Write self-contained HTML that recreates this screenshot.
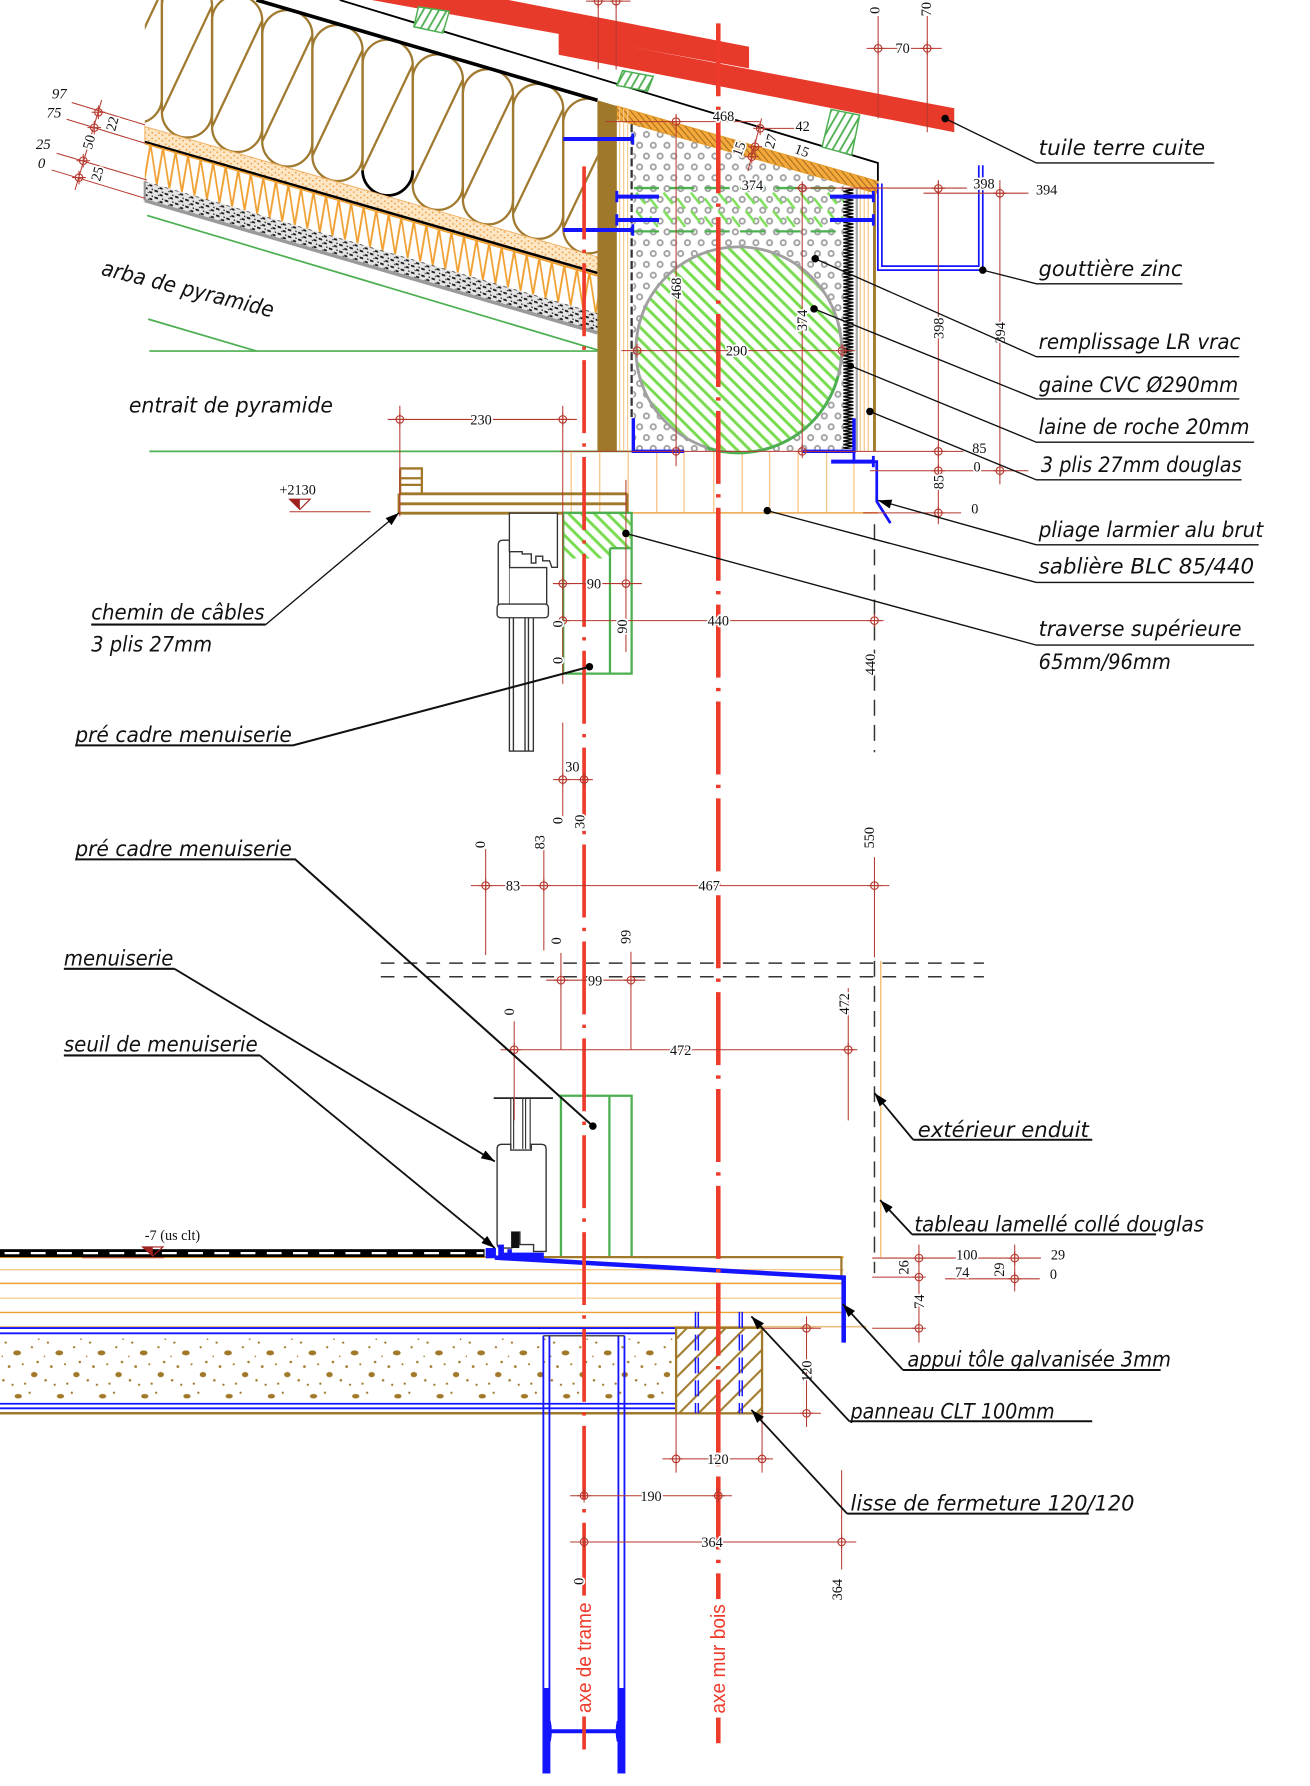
<!DOCTYPE html>
<html><head><meta charset="utf-8">
<style>
html,body{margin:0;padding:0;background:#fff;overflow:hidden}
svg{display:block}
.lb{font-family:"DejaVu Sans","Liberation Sans",sans-serif;font-style:italic;font-size:19px;fill:#111}
.dm{font-family:"Liberation Serif",serif;font-size:12.5px;fill:#111;paint-order:stroke;stroke:#fff;stroke-width:3px;stroke-linejoin:round}
.dn{font-family:"Liberation Serif",serif;font-size:12.5px;fill:#111}
.dt{font-family:"Liberation Serif",serif;font-style:italic;font-size:13px;fill:#111}
.ax{font-family:"Liberation Sans",sans-serif;font-size:18px;fill:#ee3a2a}
</style></head><body>
<svg xmlns="http://www.w3.org/2000/svg" width="1310" height="1786" viewBox="0 0 1149 1567" preserveAspectRatio="none">
<defs>
<g id="dc"><circle r="3.3" fill="none" stroke="#b5382e" stroke-width="1"/><path d="M-6,0H6M0,-6V6" stroke="#b5382e" stroke-width="0.9"/></g>
<pattern id="gh" width="8" height="8" patternUnits="userSpaceOnUse" patternTransform="rotate(-45)"><rect width="8" height="8" fill="#fff"/><line x1="2" y1="0" x2="2" y2="8" stroke="#78dc50" stroke-width="2.6"/></pattern>
<pattern id="gb" width="6" height="6" patternUnits="userSpaceOnUse" patternTransform="rotate(30)"><rect width="6" height="6" fill="#fff"/><line x1="2" y1="0" x2="2" y2="6" stroke="#4caf50" stroke-width="1.6"/></pattern>
<pattern id="bh" width="12" height="12" patternUnits="userSpaceOnUse" patternTransform="rotate(45)"><rect width="12" height="12" fill="#fff"/><line x1="2" y1="0" x2="2" y2="12" stroke="#a0782a" stroke-width="1.8"/></pattern>
<pattern id="oh" width="4" height="4" patternUnits="userSpaceOnUse" patternTransform="rotate(-40)"><rect width="4" height="4" fill="#f5a93a"/><line x1="1" y1="0" x2="1" y2="4" stroke="#8a5a18" stroke-width="0.7"/></pattern>
<pattern id="gd" width="12" height="19" patternUnits="userSpaceOnUse"><rect width="12" height="19" fill="#fff"/><circle cx="3" cy="4" r="2.3" fill="none" stroke="#a0a0a0" stroke-width="1.6"/><circle cx="9" cy="13.5" r="2.3" fill="none" stroke="#a0a0a0" stroke-width="1.6"/></pattern>
<pattern id="sp" width="6" height="5" patternUnits="userSpaceOnUse"><rect width="6" height="5" fill="#fde6c4"/><circle cx="1.5" cy="1.5" r="0.8" fill="#f0a040"/><circle cx="4.5" cy="3.5" r="0.7" fill="#e89030"/></pattern>
<pattern id="gv" width="9" height="6" patternUnits="userSpaceOnUse" patternTransform="skewY(16.3)"><rect width="9" height="6" fill="#e4e4e4"/><rect x="0.5" y="0.8" width="3" height="1.6" fill="#111"/><rect x="5" y="3.2" width="2.6" height="1.6" fill="#111"/><rect x="3.5" y="4.3" width="1.2" height="1" fill="#333"/><rect x="7" y="0.5" width="1.2" height="1.2" fill="#222"/></pattern>
<pattern id="zz" x="0" y="87.9" width="11" height="34" patternUnits="userSpaceOnUse" patternTransform="skewY(16.3)"><path d="M0,0 L5.5,34 L11,0" fill="none" stroke="#f0a030" stroke-width="1.6"/></pattern>
<pattern id="lr" x="739.5" y="0" width="10" height="3" patternUnits="userSpaceOnUse"><path d="M0,0 L9,1.5 L0,3" fill="none" stroke="#000" stroke-width="1.2"/></pattern>
<pattern id="gdash" x="556" y="168" width="24" height="16" patternUnits="userSpaceOnUse"><path d="M2,1 L10,11 M14,6 L21,15" stroke="#7ee05a" stroke-width="2.2"/></pattern>
<pattern id="cc" x="0" y="1170" width="37" height="62" patternUnits="userSpaceOnUse"><rect width="37" height="62" fill="#fff"/><ellipse cx="15" cy="17" rx="3.4" ry="2.2" fill="#a07828"/><ellipse cx="30" cy="36" rx="2.8" ry="2.3" fill="#a07828"/><ellipse cx="16" cy="55" rx="3.2" ry="2" fill="#a07828"/><circle cx="5" cy="8" r="1" fill="#a07828"/><circle cx="28" cy="12" r="1" fill="#a07828"/><circle cx="33" cy="25" r="1.1" fill="#a07828"/><circle cx="8" cy="29" r="1.2" fill="#a07828"/><circle cx="22" cy="44" r="1" fill="#a07828"/><circle cx="3" cy="41" r="1.1" fill="#a07828"/><circle cx="26" cy="52" r="1" fill="#a07828"/><circle cx="11" cy="45" r="1" fill="#a07828"/><circle cx="20" cy="27" r="0.9" fill="#a07828"/><circle cx="34" cy="5" r="0.7" fill="#a07828"/><circle cx="2" cy="20" r="0.7" fill="#a07828"/></pattern>
<marker id="ar" viewBox="0 0 12 8" refX="12" refY="4" markerWidth="12" markerHeight="8" markerUnits="userSpaceOnUse" orient="auto"><path d="M0,0 L12,4 L0,8 z" fill="#000"/></marker>
<clipPath id="insc"><rect x="127" y="0" width="397" height="260"/></clipPath>
</defs>
<rect width="1149" height="1567" fill="#fff"/>

<!-- ===== ROOF LEFT ===== -->
<g clip-path="url(#insc)" fill="none" stroke="#a07a30" stroke-width="2">
<path d="M98,-7.9 A22,22 0 0 1 142,-7.9 V85.9 A22,22 0 0 1 98,85.9 Z M98,85.9 L142,-7.9"/>
<path d="M142,5.1 A22,22 0 0 1 186,5.1 V98.7 A22,22 0 0 1 142,98.7 Z M142,98.7 L186,5.1"/>
<path d="M186,18 A22,22 0 0 1 230,18 V111.4 A22,22 0 0 1 186,111.4 Z M186,111.4 L230,18"/>
<path d="M230,30.9 A22,22 0 0 1 274,30.9 V124.1 A22,22 0 0 1 230,124.1 Z M230,124.1 L274,30.9"/>
<path d="M274,43.9 A22,22 0 0 1 318,43.9 V136.8 A22,22 0 0 1 274,136.8 Z M274,136.8 L318,43.9"/>
<path d="M318,56.8 A22,22 0 0 1 362,56.8 V149.5 A22,22 0 0 1 318,149.5 Z M318,149.5 L362,56.8"/>
<path d="M362,69.7 A22,22 0 0 1 406,69.7 V162.2 A22,22 0 0 1 362,162.2 Z M362,162.2 L406,69.7"/>
<path d="M406,82.7 A22,22 0 0 1 450,82.7 V174.9 A22,22 0 0 1 406,174.9 Z M406,174.9 L450,82.7"/>
<path d="M450,95.6 A22,22 0 0 1 494,95.6 V187.6 A22,22 0 0 1 450,187.6 Z M450,187.6 L494,95.6"/>
<path d="M494,108.6 A22,22 0 0 1 538,108.6 V200.3 A22,22 0 0 1 494,200.3 Z M494,200.3 L538,108.6"/>
<path d="M318,149.5 A22,22 0 0 0 362,149.5" stroke="#000" stroke-width="2.4"/>
</g>
<line x1="225" y1="0" x2="524" y2="88" stroke="#000" stroke-width="3.2"/>
<path d="M298,0 L770,143 V159" fill="none" stroke="#000" stroke-width="1.6"/>
<polygon points="127,111 540,230 540,246 127,124" fill="url(#sp)" stroke="#f0b060" stroke-width="0.8"/>
<line x1="127" y1="124.5" x2="524" y2="239.5" stroke="#000" stroke-width="2.2"/>
<polygon points="127,125 524,241 524,275 127,159" fill="url(#zz)"/>
<line x1="127" y1="126" x2="524" y2="242" stroke="#f0a030" stroke-width="1.4"/>
<polygon points="127,159 524,275 524,291 127,175" fill="url(#gv)"/>
<line x1="127" y1="176" x2="524" y2="292" stroke="#9a9a9a" stroke-width="3"/>
<line x1="127" y1="159" x2="127" y2="176" stroke="#9a9a9a" stroke-width="2"/>
<g stroke="#4caf50" stroke-width="1.5" fill="none">
<line x1="129" y1="189" x2="524" y2="307"/>
<line x1="130" y1="280" x2="225" y2="308"/>
<line x1="131" y1="308" x2="524" y2="308"/>
<line x1="131" y1="396" x2="560" y2="396"/>
</g>

<!-- ===== TILES ===== -->
<polygon points="326,0 446,0 657,41 657,60" fill="#e83a2b"/>
<polygon points="490,29 837,95 837,116 490,48" fill="#e83a2b"/>
<polygon points="367,6 394,10 388.5,29 363,23.5" fill="url(#gb)" stroke="#4caf50" stroke-width="1.3"/>
<polygon points="546,62 573,67 568,80 541,75" fill="url(#gb)" stroke="#4caf50" stroke-width="1.3"/>
<polygon points="729,96 754,101 747,136 721,129" fill="url(#gb)" stroke="#4caf50" stroke-width="1.3"/>

<!-- ===== WALL TOP ===== -->
<g stroke="#f7c88e" stroke-width="1.2">
<path d="M501,396V450 M526,396V450 M551,396V450 M576,396V450 M600,396V450 M626,396V450 M651,396V450 M675,396V450 M700,396V450 M725,396V450 M749,396V450"/>
</g>
<line x1="494" y1="450" x2="770" y2="450" stroke="#f0b060" stroke-width="1.5"/>
<polygon points="555.5,109 740,162 740,396 555.5,396" fill="url(#gd)"/>
<rect x="556" y="168" width="184" height="32" fill="url(#gdash)"/>
<g stroke="#4caf50" stroke-width="2" stroke-dasharray="22 9"><line x1="556" y1="165" x2="740" y2="165"/><line x1="556" y1="203" x2="740" y2="203"/></g>
<circle cx="648" cy="306.8" r="90.2" fill="url(#gh)" stroke="#a0a0a0" stroke-width="2.5"/>
<path d="M620,393 A90.2,90.2 0 0 0 735,330" fill="none" stroke="#4caf50" stroke-width="2.5"/>
<rect x="739.5" y="165" width="9.5" height="229" fill="url(#lr)"/>
<line x1="751.5" y1="163" x2="751.5" y2="396" stroke="#aaa" stroke-width="2"/>
<g stroke="#f5c27a" stroke-width="1"><path d="M754.5,160V396 M758,161V396 M761.5,162V396"/></g>
<line x1="767" y1="164" x2="767" y2="396" stroke="#a0782a" stroke-width="2.5"/>
<polygon points="541,93 770,159 770,170 541,105" fill="url(#oh)" stroke="#e39a2a" stroke-width="0.8"/>
<polygon points="524,88 541,93 541,396 524,396" fill="#a0782a"/>
<g stroke="#f7c98b" stroke-width="1"><path d="M543.5,94V396 M547,95V396 M550.5,96V396"/></g>
<line x1="554" y1="109" x2="554" y2="366" stroke="#333" stroke-width="2" stroke-dasharray="7 3"/>
<g stroke="#1414ff" fill="none">
<path d="M555.5,367V396H600 M749,367V396H703" stroke-width="3"/>
<path d="M770,161V237H862V145 M773.5,161V233.5H858.5V145" stroke-width="1.5"/>
<path d="M749,396V405H769V440L781,459" stroke-width="2.4"/>
<path d="M494,122H555 M541,172.5H578 M541,193H578 M728,172.5H766 M728,193H766 M494,201.8H555 M729,405H766" stroke-width="3.5"/>
<path d="M555,117V127 M541,167.5V177.5 M541,188V198 M766,167.5V177.5 M766,188V198 M555,196.8V206.8 M766,400V410" stroke-width="2.5"/>
</g>

<!-- chemin de cables -->
<g stroke="#a0782a" stroke-width="2.5" fill="none">
<path d="M350,433.3H550 M350,442H550 M350,450.3H550 M350,433V450.3 M550,433V450.3"/>
<path d="M351,411H370V433 M351,411V433 M351,419.6H370 M351,425.4H370" stroke-width="2"/>
</g>
<polygon points="494,450 554,450 554,481 535,481 535,490 494,490" fill="url(#gh)"/>
<path d="M494,450H554V591H494Z M535,481V591 M535,481H554" fill="none" stroke="#4caf50" stroke-width="2"/>
<g fill="#fff" stroke="#333" stroke-width="1.2">
<path d="M437,478 Q437,474 441,474 H447 V541 H437 Z"/>
<path d="M446.8,450.3 H488.9 V497.7 H484 L482,492 H476 V488 H470 V494 H466 V486 H458 V484 H446.8 Z"/>
<path d="M447,498 H479.5 V541 H447"/>
<rect x="446.8" y="532" width="21" height="127"/>
<path d="M450.3,532V659 M460.5,532V659 M463.5,532V659" fill="none"/>
<rect x="436" y="530" width="45" height="12" rx="3"/>
</g>

<g stroke="#333" stroke-width="1.3" stroke-dasharray="12 8" fill="none">
<line x1="334" y1="845" x2="863" y2="845"/>
<line x1="334" y1="857" x2="863" y2="857"/>
<line x1="767" y1="460" x2="767" y2="660" stroke-dasharray="14 8"/>
<line x1="767" y1="843" x2="767" y2="1117" stroke-dasharray="14 8"/>
</g>
<line x1="772.5" y1="843" x2="772.5" y2="1103" stroke="#f5c27a" stroke-width="1.3"/>

<path d="M492,1103V961.4H554V1103 M534.5,961.4V1103" fill="none" stroke="#4caf50" stroke-width="2"/>
<line x1="433" y1="963.5" x2="485" y2="963.5" stroke="#222" stroke-width="1.5"/>
<g stroke="#333" stroke-width="1"><path d="M448,963.5V1008 M450.5,963.5V1008 M458.5,963.5V1008 M461,963.5V1008 M465,963.5V1008"/></g>
<path d="M436,1008 Q436,1004 440,1004 H448 V1009 H466 V1004 H475 Q479,1004 479,1008 V1098 H468 V1092 H456 V1081 H448.8 V1095 H440 Q436,1095 436,1091 Z" fill="#fff" stroke="#333" stroke-width="1.2"/>
<rect x="448.8" y="1081" width="6.7" height="14" fill="#111"/>

<!-- ===== FLOOR ===== -->
<g fill="none">
<line x1="0" y1="1103" x2="740" y2="1103" stroke="#e8a020" stroke-width="1.5"/>
<line x1="0" y1="1114" x2="740" y2="1114" stroke="#f5c78a" stroke-width="1.2"/>
<line x1="0" y1="1126" x2="740" y2="1126" stroke="#f0a030" stroke-width="1.3"/>
<line x1="0" y1="1139" x2="740" y2="1139" stroke="#f8d29a" stroke-width="1.2"/>
<line x1="0" y1="1151.5" x2="740" y2="1151.5" stroke="#f0a030" stroke-width="1.3"/>
<line x1="0" y1="1164" x2="760" y2="1164" stroke="#e8c080" stroke-width="1.5"/>
</g>
<rect x="0" y="1170" width="593" height="61" fill="url(#cc)"/>
<g stroke="#1414ff" stroke-width="1.6" fill="none">
<path d="M0,1165.2H593 M0,1169.8H593 M0,1231.6H593 M0,1235.6H593"/>
</g>
<line x1="0" y1="1240" x2="668" y2="1240" stroke="#a0782a" stroke-width="2.2"/>
<rect x="593" y="1165" width="75.4" height="75" fill="url(#bh)" stroke="#a0782a" stroke-width="2"/>
<g stroke="#1414ff" stroke-width="1.3" stroke-dasharray="14 6"><path d="M610,1151V1240 M612.5,1151V1240 M648.5,1151V1240 M651,1151V1240"/></g>
<rect x="0" y="1096" width="425" height="7" fill="#000"/>
<line x1="4" y1="1099.5" x2="424" y2="1099.5" stroke="#fff" stroke-width="2" stroke-dasharray="13 10"/>
<g stroke="#1414ff" fill="none">
<path d="M476.6,1172V1556 M481.9,1172V1556 M542.4,1172V1556 M547.7,1172V1556" stroke-width="1.6"/>
<rect x="476" y="1481" width="6.5" height="75" fill="#1414ff" stroke="none"/>
<rect x="541.8" y="1481" width="6.5" height="75" fill="#1414ff" stroke="none"/>
<path d="M482,1519H542" stroke-width="3.5"/>
<path d="M482,1510 Q484,1519 482,1528 M542,1510 Q540,1519 542,1528" stroke-width="2"/>
</g>
<line x1="476.6" y1="1172" x2="547.7" y2="1172" stroke="#111" stroke-width="1"/>
<line x1="455" y1="1103" x2="738" y2="1103" stroke="#a0782a" stroke-width="2"/>
<line x1="738" y1="1103" x2="738" y2="1121" stroke="#a0782a" stroke-width="2"/>
<line x1="434" y1="1103.4" x2="740" y2="1121" stroke="#1414ff" stroke-width="4"/>
<line x1="740" y1="1119" x2="740" y2="1178" stroke="#1414ff" stroke-width="4"/>
<g fill="#1414ff"><rect x="426" y="1095" width="9" height="9"/><rect x="437" y="1092" width="5" height="12"/><rect x="441" y="1099" width="36" height="5"/><rect x="445" y="1096" width="4" height="4"/></g>

<!-- ===== AXES ===== -->
<line x1="630" y1="20.5" x2="630" y2="1530" stroke="#ee3a2a" stroke-width="4" stroke-dasharray="64 9 3 9"/>
<line x1="512.3" y1="146" x2="512.3" y2="1535" stroke="#ee3a2a" stroke-width="3.2" stroke-dasharray="64 9 3 9"/>
<rect x="503" y="1402" width="18" height="104" fill="#fff"/>
<rect x="621" y="1403" width="18" height="104" fill="#fff"/>
<text class="ax" transform="translate(518.5,1503) rotate(-90)" textLength="97" lengthAdjust="spacingAndGlyphs">axe de trame</text>
<text class="ax" transform="translate(636,1503.5) rotate(-90)" textLength="96" lengthAdjust="spacingAndGlyphs">axe mur bois</text>

<!-- ===== DIMENSIONS ===== -->
<g stroke="#b5382e" stroke-width="0.9" fill="none">
<path d="M514,1H553 M524.7,0V61 M540.4,0V61 M770.2,14V104 M813.3,14V116 M760,42.4H826 M531,106.7H666 M666.7,112.6H700 M668,104L656,150 M593,100V409 M703.6,160V400 M698,165H848 M810,169.5H902 M545,307.6H750 M823,158V460 M877,158V425 M491,396H845 M763,413H902 M757,450H843 M340,368H506 M350.7,356V453 M493.6,356V600 M493.6,634V716 M549,421V572 M485,512H563 M485,544.5H775 M485,684H520 M413,777H780 M426,745V838 M477,745V834 M767,752V840 M479,860H566 M492,836V921 M553.4,835V921 M439,921H752 M451,896V983 M744,867V983 M765,1103.8H913 M765,1120.5H808 M829,1122H912 M806,1092V1178 M890,1092V1133 M765,1165.4H806 M668,1165.4H720 M668,1240H720 M707.4,1155V1252 M581,1280H678 M593,1240V1292 M668.4,1240V1292 M500,1312.3H642 M500,1352.9H751 M738.2,1290V1377 M254,449H325 M72,1103.5H144"/>
<path d="M62.9,89.9L127.2,109.6 M58.5,104.6L127.2,125.7 M49.7,134.5L128.7,157.9 M45.3,149.1L127.2,174 M89.2,87.7L65.8,166.7"/>
</g>
<g>
<use href="#dc" x="524.7" y="1"/><use href="#dc" x="540.4" y="1"/><use href="#dc" x="770.2" y="42.4"/><use href="#dc" x="813.3" y="42.4"/><use href="#dc" x="593" y="106.7"/><use href="#dc" x="666.7" y="112.6"/><use href="#dc" x="662.3" y="128.7"/><use href="#dc" x="659.4" y="137.5"/><use href="#dc" x="593" y="396"/><use href="#dc" x="703.6" y="165"/><use href="#dc" x="703.6" y="396"/><use href="#dc" x="823" y="165.3"/><use href="#dc" x="877" y="169.6"/><use href="#dc" x="558.8" y="307.6"/><use href="#dc" x="738.6" y="307.6"/><use href="#dc" x="823" y="396"/><use href="#dc" x="823" y="413"/><use href="#dc" x="823" y="450"/><use href="#dc" x="877" y="413"/><use href="#dc" x="350.7" y="368"/><use href="#dc" x="493.6" y="368"/><use href="#dc" x="493.6" y="512"/><use href="#dc" x="549" y="512"/><use href="#dc" x="493.6" y="544.5"/><use href="#dc" x="767" y="544.5"/><use href="#dc" x="493.6" y="684"/><use href="#dc" x="512.3" y="684"/><use href="#dc" x="426" y="777"/><use href="#dc" x="477" y="777"/><use href="#dc" x="767" y="777"/><use href="#dc" x="492" y="860"/><use href="#dc" x="553.4" y="860"/><use href="#dc" x="451" y="921"/><use href="#dc" x="744" y="921"/><use href="#dc" x="806" y="1103.8"/><use href="#dc" x="806" y="1120.5"/><use href="#dc" x="806" y="1165.4"/><use href="#dc" x="890" y="1103.8"/><use href="#dc" x="890" y="1122"/><use href="#dc" x="707.4" y="1165.4"/><use href="#dc" x="707.4" y="1240"/><use href="#dc" x="593" y="1280"/><use href="#dc" x="668.4" y="1280"/><use href="#dc" x="512.3" y="1312.3"/><use href="#dc" x="630" y="1312.3"/><use href="#dc" x="512.3" y="1352.9"/><use href="#dc" x="738.2" y="1352.9"/>
<use href="#dc" x="86.3" y="98.5"/><use href="#dc" x="82.7" y="112"/><use href="#dc" x="73" y="141"/><use href="#dc" x="69.3" y="155.8"/>
</g>
<g class="dm" text-anchor="middle">
<text x="791.7" y="46.5">70</text>
<text x="634.6" y="106">468</text>
<text x="704" y="115">42</text>
<text x="660" y="166.5">374</text>
<text x="863" y="165.5">398</text>
<text x="918" y="170.5">394</text>
<text x="646" y="312">290</text>
<text x="859" y="397.5">85</text>
<text x="857" y="413.5">0</text>
<text x="855" y="450.5">0</text>
<text x="422" y="372.5">230</text>
<text x="521" y="516.5">90</text>
<text x="630" y="549">440</text>
<text x="502" y="677">30</text>
<text x="450" y="781.5">83</text>
<text x="622" y="781.5">467</text>
<text x="522" y="864.5">99</text>
<text x="597" y="925.5">472</text>
<text x="848" y="1105">100</text>
<text x="844" y="1120.5">74</text>
<text x="928" y="1105">29</text>
<text x="924" y="1122">0</text>
<text x="629.7" y="1284.5">120</text>
<text x="571" y="1316.8">190</text>
<text x="624.6" y="1357.4">364</text>
</g>
<text class="dn" x="245" y="434">+2130</text>
<text class="dn" x="127" y="1088">-7 (us clt)</text>
<polygon points="254,438 272,438 263,447" fill="none" stroke="#a02020" stroke-width="1"/>
<polygon points="254,438 263,438 263,447" fill="#a02020"/>
<polygon points="125,1094 143,1094 134,1102" fill="none" stroke="#a02020" stroke-width="1"/>
<polygon points="125,1094 134,1094 134,1102" fill="#a02020"/>
<g class="dm" text-anchor="middle">
<text transform="translate(771.5,9) rotate(-90)">0</text>
<text transform="translate(816.5,8) rotate(-90)">70</text>
<text transform="translate(597.5,253) rotate(-90)">468</text>
<text transform="translate(708,281) rotate(-90)">374</text>
<text transform="translate(827.5,288) rotate(-90)">398</text>
<text transform="translate(881.5,292) rotate(-90)">394</text>
<text transform="translate(827.5,423) rotate(-90)">85</text>
<text transform="translate(680,125) rotate(-75)">27</text>
<text transform="translate(652,132) rotate(-70)">15</text>
<text transform="translate(702,136) rotate(20)">15</text>
<text transform="translate(767.5,583) rotate(-90)">440</text>
<text transform="translate(550,549.7) rotate(-90)">90</text>
<text transform="translate(493.3,547.4) rotate(-90)">0</text>
<text transform="translate(493.3,579.5) rotate(-90)">0</text>
<text transform="translate(493.5,720) rotate(-90)">0</text>
<text transform="translate(512.5,721) rotate(-90)">30</text>
<text transform="translate(425.5,741) rotate(-90)">0</text>
<text transform="translate(477.5,739) rotate(-90)">83</text>
<text transform="translate(766.5,735) rotate(-90)">550</text>
<text transform="translate(492,825.4) rotate(-90)">0</text>
<text transform="translate(552.8,822) rotate(-90)">99</text>
<text transform="translate(451,887.7) rotate(-90)">0</text>
<text transform="translate(744.5,880.7) rotate(-90)">472</text>
<text transform="translate(797,1112) rotate(-90)">26</text>
<text transform="translate(810.5,1142) rotate(-90)">74</text>
<text transform="translate(880.5,1114) rotate(-90)">29</text>
<text transform="translate(711.9,1203) rotate(-90)">120</text>
<text transform="translate(738.4,1394.8) rotate(-90)">364</text>
<text transform="translate(512,1387.4) rotate(-90)">0</text>
<text transform="translate(102.5,109.6) rotate(-75)">22</text>
<text transform="translate(82,125.7) rotate(-75)">50</text>
<text transform="translate(89.3,153.5) rotate(-75)">25</text>
</g>
<g class="dt" text-anchor="middle">
<text x="52" y="86.5">97</text>
<text x="47.4" y="103">75</text>
<text x="38" y="130.8">25</text>
<text x="36.5" y="147.2">0</text>
</g>

<!-- ===== LEADERS ===== -->
<g stroke="#111" stroke-width="1.2" fill="none">
<path d="M829,104L909,143H1065 M862,237L909,249H1037 M715,227L909,313H1087 M714,271L909,350H1087 M746,321L909,388H1100 M763,361L909,421H1089 M909,478H1104 M673,448L909,511H1100 M549,468L909,566H1100"/>
</g>
<line x1="909" y1="478" x2="770" y2="439" stroke="#111" stroke-width="1.2" marker-end="url(#ar)"/>
<g stroke="#111" stroke-width="1.8" fill="none">
<path d="M80,548H233 M66,654H257L517,585 M66,754H259L520,988 M56,850H153 M56,926H228 M801,1000H958 M800,1083H1014 M792,1202H1018 M745,1247H958 M743,1328H955"/>
</g>
<g stroke="#111" stroke-width="1.6" marker-end="url(#ar)">
<line x1="233" y1="548" x2="350" y2="450" stroke-width="1.2"/>
<line x1="153" y1="850" x2="434" y2="1019"/>
<line x1="228" y1="926" x2="434" y2="1095"/>
<line x1="801" y1="1000" x2="767" y2="959"/>
<line x1="800" y1="1083" x2="772" y2="1053"/>
<line x1="792" y1="1202" x2="739" y2="1144"/>
<line x1="745" y1="1247" x2="659" y2="1155"/>
<line x1="743" y1="1328" x2="659" y2="1237"/>
</g>
<g fill="#000">
<circle cx="829" cy="104" r="3.3"/><circle cx="862" cy="237" r="3.3"/><circle cx="715" cy="227" r="3.3"/><circle cx="714" cy="271" r="3.3"/><circle cx="746" cy="321" r="3"/><circle cx="763" cy="361" r="3.3"/><circle cx="673" cy="448" r="3.3"/><circle cx="549" cy="468" r="3.3"/><circle cx="517" cy="585" r="3.3"/><circle cx="520" cy="988" r="3.3"/>
</g>

<!-- ===== LABELS ===== -->
<g class="lb">
<text x="911" y="136" textLength="146" lengthAdjust="spacingAndGlyphs">tuile terre cuite</text>
<text x="911" y="242" textLength="126" lengthAdjust="spacingAndGlyphs">gouttière zinc</text>
<text x="911" y="306" textLength="177" lengthAdjust="spacingAndGlyphs">remplissage LR vrac</text>
<text x="911" y="344" textLength="175" lengthAdjust="spacingAndGlyphs">gaine CVC Ø290mm</text>
<text x="911" y="381" textLength="185" lengthAdjust="spacingAndGlyphs">laine de roche 20mm</text>
<text x="913" y="414" textLength="176" lengthAdjust="spacingAndGlyphs">3 plis 27mm douglas</text>
<text x="911" y="471" textLength="197" lengthAdjust="spacingAndGlyphs">pliage larmier alu brut</text>
<text x="911" y="503" textLength="189" lengthAdjust="spacingAndGlyphs">sablière BLC 85/440</text>
<text x="911" y="558" textLength="178" lengthAdjust="spacingAndGlyphs">traverse supérieure</text>
<text x="911" y="587" textLength="116" lengthAdjust="spacingAndGlyphs">65mm/96mm</text>
<text transform="translate(88,241) rotate(14)" textLength="155" lengthAdjust="spacingAndGlyphs">arba de pyramide</text>
<text x="113" y="362" textLength="179" lengthAdjust="spacingAndGlyphs">entrait de pyramide</text>
<text x="80" y="543.5" textLength="152" lengthAdjust="spacingAndGlyphs">chemin de câbles</text>
<text x="80" y="571.5" textLength="106" lengthAdjust="spacingAndGlyphs">3 plis 27mm</text>
<text x="66" y="651" textLength="190" lengthAdjust="spacingAndGlyphs">pré cadre menuiserie</text>
<text x="66" y="751" textLength="190" lengthAdjust="spacingAndGlyphs">pré cadre menuiserie</text>
<text x="56" y="847" textLength="96" lengthAdjust="spacingAndGlyphs">menuiserie</text>
<text x="56" y="922.5" textLength="170" lengthAdjust="spacingAndGlyphs">seuil de menuiserie</text>
<text x="805" y="997.5" textLength="150" lengthAdjust="spacingAndGlyphs">extérieur enduit</text>
<text x="802" y="1080.5" textLength="254" lengthAdjust="spacingAndGlyphs">tableau lamellé collé douglas</text>
<text x="796" y="1199" textLength="231" lengthAdjust="spacingAndGlyphs">appui tôle galvanisée 3mm</text>
<text x="746" y="1244.5" textLength="179" lengthAdjust="spacingAndGlyphs">panneau CLT 100mm</text>
<text x="746" y="1325.5" textLength="249" lengthAdjust="spacingAndGlyphs">lisse de fermeture 120/120</text>
</g>
</svg>
</body></html>
